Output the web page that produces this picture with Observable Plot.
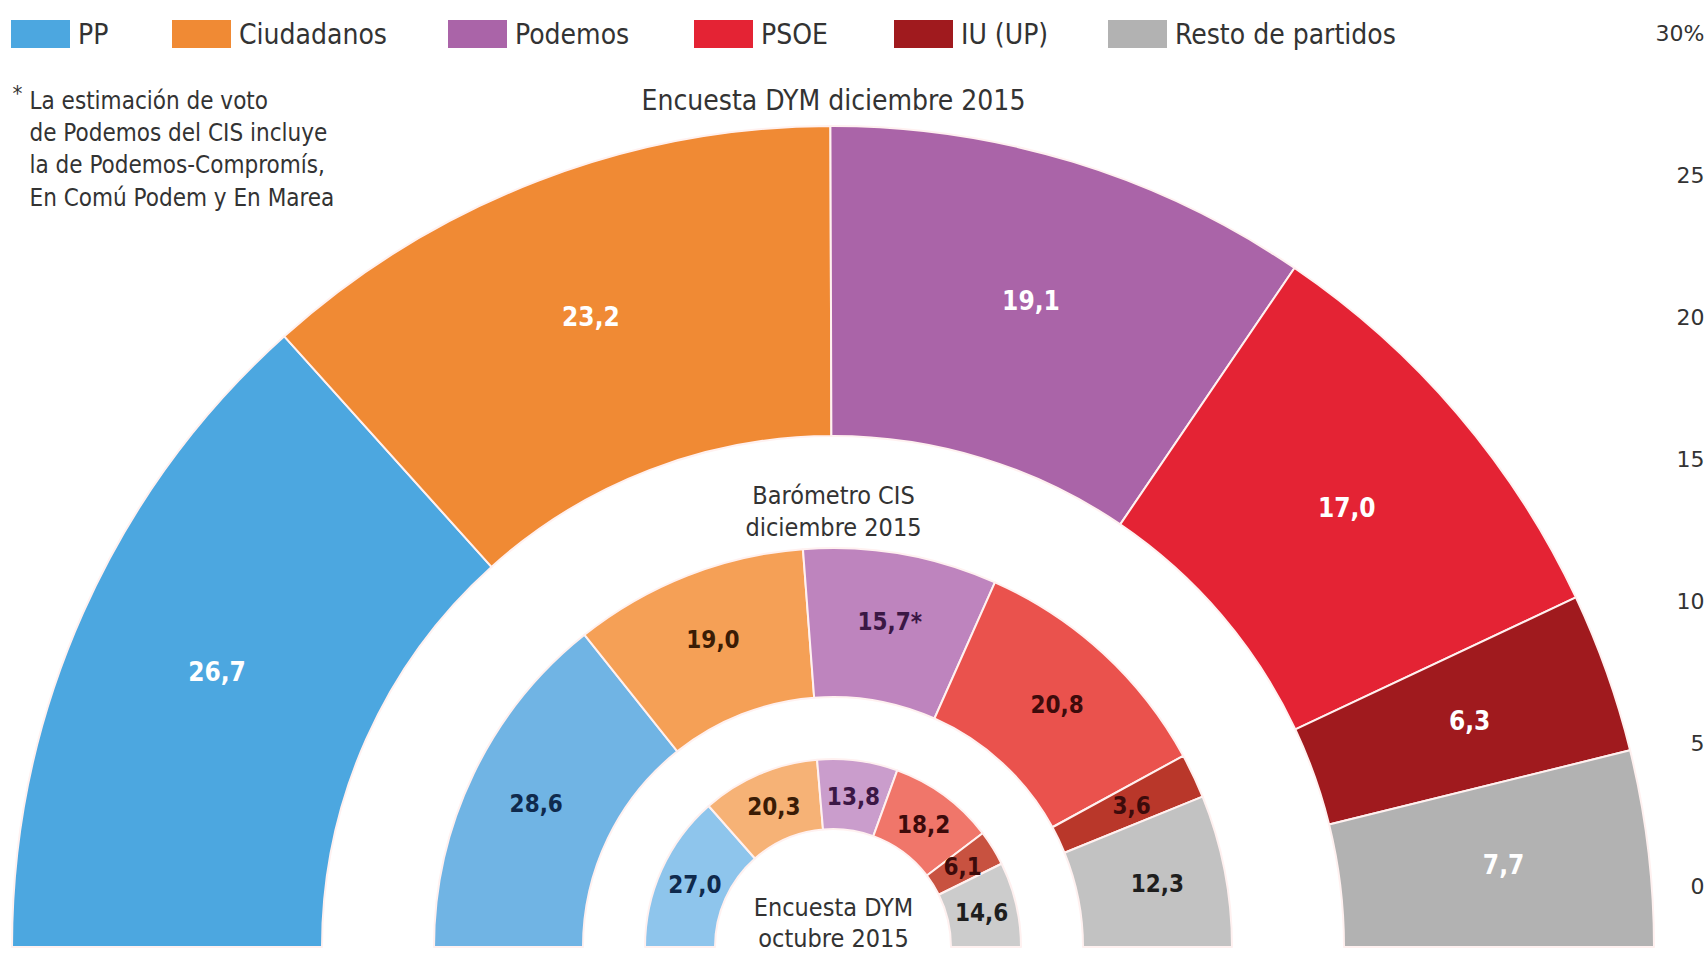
<!DOCTYPE html>
<html>
<head>
<meta charset="utf-8">
<script src="https://cdn.jsdelivr.net/npm/d3@7"></script>
<script src="https://cdn.jsdelivr.net/npm/@observablehq/plot@0.6"></script>
<style>
  html, body { margin: 0; padding: 0; background: #fff; overflow: hidden; }
  body { width: 1706px; height: 960px; position: relative;
         font-family: "DejaVu Sans Condensed", "Liberation Sans Narrow", "DejaVu Sans", sans-serif; }
  #legend { position: relative; height: 66px; }
  .item { position: absolute; top: 0; height: 68px; display: flex; align-items: center;
          font-size: 28px; color: #333; white-space: nowrap; }
  .sw { display: inline-block; width: 59px; height: 28px; margin-right: 8px; }
  #axis { position: absolute; top: 0; left: 1594px; width: 112px; height: 960px; }
  #axis svg { max-width: none; width: 112px; height: 960px; }
  #chart svg { display: block; }
</style>
</head>
<body>
<div id="legend"></div>
<div id="chart"></div>
<div id="axis"></div>
<script>
// ---------- data ----------
const parties = ["PP", "Ciudadanos", "Podemos", "PSOE", "IU (UP)", "Resto de partidos"];
const surveyOuter = "Encuesta DYM diciembre 2015";
const surveyMiddle = ["Barómetro CIS", "diciembre 2015"];
const surveyInner = ["Encuesta DYM", "octubre 2015"];
const dymDiciembre = [26.7, 23.2, 19.1, 17.0, 6.3, 7.7];
const cisDiciembre = [28.6, 19.0, 15.7, 20.8, 3.6, 12.3];
const dymOctubre = [27.0, 20.3, 13.8, 18.2, 6.1, 14.6];
const cisFootnoteParty = "Podemos";
const footnoteLines = [
  "La estimación de voto",
  "de Podemos del CIS incluye",
  "la de Podemos-Compromís,",
  "En Comú Podem y En Marea"
];
const axisTicks = [0, 5, 10, 15, 20, 25, 30];

// ---------- styles ----------
const outerColors = ["#4ca7e0", "#f08a34", "#aa64a8", "#e42334", "#a01a1e", "#b2b2b2"];
const middleColors = ["#70b4e4", "#f5a056", "#be84be", "#ea524d", "#b9372a", "#c2c2c2"];
const innerColors = ["#8ec5ec", "#f6b276", "#ca9dcc", "#f0766a", "#c85240", "#cccccc"];
const darkText = ["#0f2a4d", "#3a1c05", "#3b1745", "#3d0b0b", "#3d0b0b", "#1e1e1e"];
const legendX = [11, 172, 448, 694, 894, 1108];
const FONT = `"DejaVu Sans Condensed", "Liberation Sans Narrow", "DejaVu Sans", sans-serif`;

const W = 1706, legendH = 66, H = 960 - legendH;
const cx = 833, cy = 947 - legendH, R = 821;   // centre and outer radius in px

const fmt = v => v.toFixed(1).replace(".", ",");

const rings = [
  {values: dymDiciembre, r0: 511, r1: 821, lr: 675, colors: outerColors, text: () => "#ffffff", mark: false, fontSize: 26},
  {values: cisDiciembre, r0: 250, r1: 399, lr: 330, colors: middleColors, text: i => darkText[i], mark: true, fontSize: 24},
  {values: dymOctubre, r0: 118, r1: 188, lr: 152, colors: innerColors, text: i => darkText[i], mark: false, fontSize: 24}
];

const segs = [];
rings.forEach((ring, k) => {
  const total = d3.sum(ring.values);
  let acc = 0;
  ring.values.forEach((v, i) => {
    const mid = (acc + v / 2) / total * Math.PI;
    segs.push({
      ring: k, party: parties[i], value: v,
      a0: -Math.PI / 2 + acc / total * Math.PI,
      a1: -Math.PI / 2 + (acc + v) / total * Math.PI,
      r0: ring.r0 / R, r1: ring.r1 / R,
      lx: -ring.lr / R * Math.cos(mid), ly: ring.lr / R * Math.sin(mid),
      fill: ring.colors[i], textFill: ring.text(i), fontSize: ring.fontSize,
      label: fmt(v) + (ring.mark && parties[i] === cisFootnoteParty ? "*" : "")
    });
    acc += v;
  });
});

// ---------- legend ----------
const legend = d3.select("#legend");
parties.forEach((p, i) => {
  const it = legend.append("div").attr("class", "item").style("left", legendX[i] + "px");
  it.append("span").attr("class", "sw").style("background", outerColors[i]);
  it.append("span").text(p);
});

// ---------- arcs mark (uses Plot's x / y scales) ----------
function arcsMark(index, scales) {
  const X = scales.x, Y = scales.y;
  const x0 = X(0), y0 = Y(0), k = X(1) - X(0);
  const arc = d3.arc();
  const g = d3.create("svg:g").attr("transform", `translate(${x0},${y0})`);
  g.selectAll("path").data(segs).join("path")
    .attr("d", d => arc({innerRadius: d.r0 * k, outerRadius: d.r1 * k, startAngle: d.a0, endAngle: d.a1}))
    .attr("fill", d => d.fill)
    .attr("stroke", "#fff1f0")
    .attr("stroke-width", 2)
    .attr("stroke-linejoin", "round");
  return g.node();
}

const chart = Plot.plot({
  width: W, height: H,
  margin: 0,
  x: {domain: [-1, 1], range: [cx - R, cx + R], axis: null},
  y: {domain: [0, 1], range: [cy, cy - R], axis: null},
  style: {fontFamily: FONT, background: "#fff", overflow: "visible"},
  marks: [
    arcsMark,
    Plot.text(segs, {x: "lx", y: "ly", text: "label", fill: "textFill", fontSize: d => d.fontSize, fontWeight: "bold"}),
    Plot.text([surveyOuter], {x: 0, y: (R + 25) / R, text: d => d, fontSize: 28, fill: "#333"}),
    Plot.text([surveyMiddle.join("\n")], {x: 0, y: 438 / R, text: d => d, fontSize: 25, lineHeight: 1.28, fill: "#333"}),
    Plot.text([surveyInner.join("\n")], {x: 0, y: 26 / R, text: d => d, fontSize: 25, lineHeight: 1.24, fill: "#333"}),
    Plot.text(["*"], {frameAnchor: "top-left", dx: 12, dy: 19, text: d => d, fontSize: 22, lineAnchor: "top", textAnchor: "start", fill: "#333"}),
    Plot.text([footnoteLines.join("\n")], {frameAnchor: "top-left", dx: 29, dy: 19, text: d => d, fontSize: 24, lineHeight: 1.35, lineAnchor: "top", textAnchor: "start", fill: "#333"})
  ]
});
document.getElementById("chart").append(chart);

// ---------- right axis (0–30 %) ----------
const axis = Plot.plot({
  width: 112, height: 960,
  marginLeft: 110, marginRight: 2, marginTop: 33, marginBottom: 74,
  y: {domain: [0, 30]},
  style: {fontFamily: "DejaVu Sans, sans-serif", fontSize: "22px", color: "#333", overflow: "visible", maxWidth: "none"},
  marks: [
    Plot.axisY(axisTicks, {anchor: "left", tickSize: 0, tickPadding: 0, label: null,
      tickFormat: d => d === 30 ? d + "%" : String(d), fontSize: 22, fill: "#333"})
  ]
});
document.getElementById("axis").append(axis);
</script>
</body>
</html>
